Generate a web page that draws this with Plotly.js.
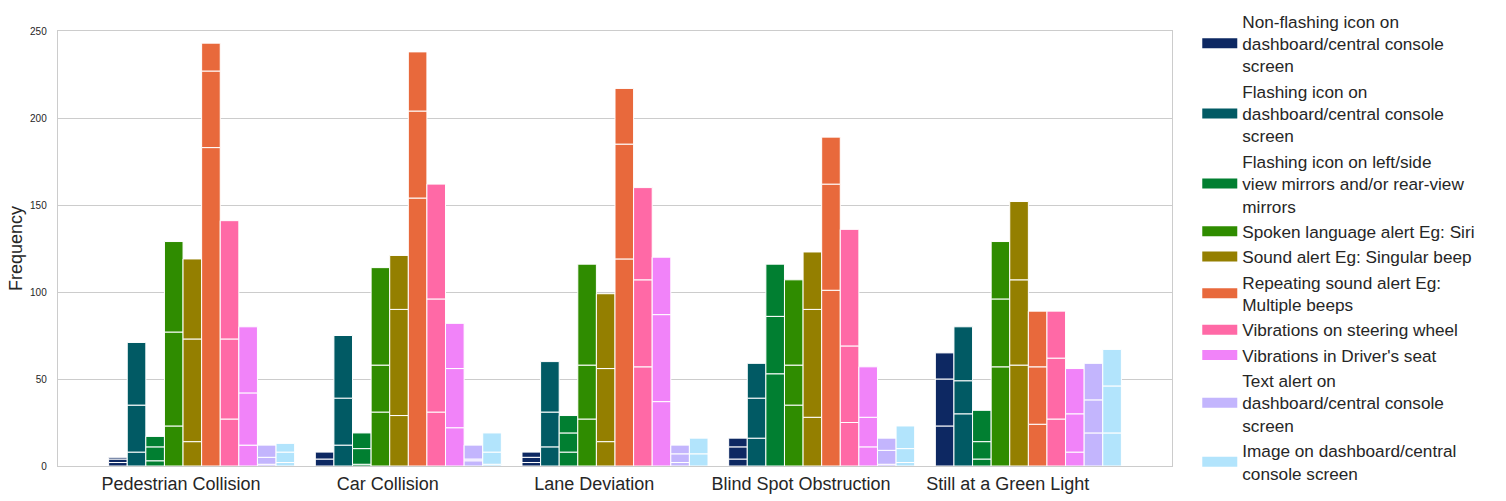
<!DOCTYPE html>
<html><head><meta charset="utf-8">
<script src="https://cdn.plot.ly/plotly-3.0.1.min.js"></script>
<style>html,body{margin:0;padding:0;background:#fff}#chart{width:1506px;height:501px}</style>
</head><body><div id="chart"></div><script>
const categories = ["Pedestrian Collision", "Car Collision", "Lane Deviation", "Blind Spot Obstruction", "Still at a Green Light"];
const options = [
  "Non-flashing icon on<br>dashboard/central console<br>screen",
  "Flashing icon on<br>dashboard/central console<br>screen",
  "Flashing icon on left/side<br>view mirrors and/or rear-view<br>mirrors",
  "Spoken language alert Eg: Siri",
  "Sound alert Eg: Singular beep",
  "Repeating sound alert Eg:<br>Multiple beeps",
  "Vibrations on steering wheel",
  "Vibrations in Driver's seat",
  "Text alert on<br>dashboard/central console<br>screen",
  "Image on dashboard/central<br>console screen"
];
const colors = ["#0d2862", "#015a64", "#017f31", "#2f8c00", "#947f00", "#e8693c", "#ff69a6", "#f183f9", "#c3b5fd", "#b2e4fc"];
// cumulative frequencies (three stacked levels) per option, per category
const level1 = [
  [2, 0, 2, 4, 23],
  [8, 12, 11, 16, 30],
  [3, 1, 8, 53, 4],
  [23, 31, 27, 35, 57],
  [14, 29, 14, 28, 58],
  [183, 154, 119, 101, 24],
  [27, 31, 57, 25, 27],
  [12, 22, 37, 11, 8],
  [1, 3, 2, 1, 19],
  [2, 1, 0, 2, 19]
];
const level2 = [
  [4, 4, 5, 11, 50],
  [35, 39, 31, 39, 49],
  [11, 10, 19, 86, 14],
  [77, 58, 58, 58, 96],
  [73, 90, 56, 90, 107],
  [227, 204, 185, 162, 57],
  [73, 96, 107, 69, 62],
  [42, 56, 87, 28, 30],
  [5, 4, 7, 9, 38],
  [8, 8, 7, 10, 46]
];
const level3 = [
  [5, 8, 8, 16, 65],
  [71, 75, 60, 59, 80],
  [17, 19, 29, 116, 32],
  [129, 114, 116, 107, 129],
  [119, 121, 99, 123, 152],
  [243, 238, 217, 189, 89],
  [141, 162, 160, 136, 89],
  [80, 82, 120, 57, 56],
  [12, 12, 12, 16, 59],
  [13, 19, 16, 23, 67]
];
const yTicks = [0, 50, 100, 150, 200, 250];

const FONT = "Liberation Sans, Arial, sans-serif";
const levels = [level1, level2, level3];
const xIdx = categories.map((c, i) => i);
const traces = [];
options.forEach((name, j) => {
  levels.forEach((lv, k) => {
    const base = xIdx.map(i => k === 0 ? 0 : levels[k - 1][j][i]);
    traces.push({
      type: "bar",
      x: xIdx,
      y: xIdx.map(i => lv[j][i] - base[i]),
      base: base,
      offsetgroup: String(j),
      marker: {color: colors[j], line: {color: "#ffffff", width: 1}},
      showlegend: false,
      hoverinfo: "skip"
    });
  });
});
options.forEach((name, j) => {
  traces.push({
    type: "scatter", mode: "lines", x: [null], y: [null],
    name: name, line: {color: colors[j], width: 11},
    showlegend: true, hoverinfo: "skip"
  });
});

const layout = {
  width: 1506, height: 501,
  margin: {l: 58, r: 334, t: 31, b: 35},
  paper_bgcolor: "#ffffff", plot_bgcolor: "#ffffff",
  font: {family: FONT, color: "#262626"},
  barmode: "group", bargap: 0.1, bargroupgap: 0,
  xaxis: {
    range: [-0.695, 4.695],
    tickvals: xIdx.map(i => i - 0.1),
    ticktext: categories,
    showgrid: false, zeroline: false,
    showline: true, mirror: true, linecolor: "#cccccc", linewidth: 1.25,
    ticks: "outside", ticklen: 1, tickcolor: "rgba(0,0,0,0)",
    tickfont: {size: 18, color: "#262626", family: FONT}
  },
  yaxis: {
    range: [0, 250],
    tickvals: yTicks,
    showgrid: true, gridcolor: "#cccccc", gridwidth: 1,
    zeroline: false,
    showline: true, mirror: true, linecolor: "#cccccc", linewidth: 1.25,
    ticks: "outside", ticklen: 8, tickcolor: "rgba(0,0,0,0)",
    tickfont: {size: 10, color: "#262626", family: FONT},
    title: {text: "Frequency", font: {size: 18, color: "#262626", family: FONT}, standoff: 2}
  },
  legend: {
    xref: "container", yref: "container",
    x: 0.795, xanchor: "left", y: 0.9934, yanchor: "top",
    maxheight: 1,
    bgcolor: "rgba(0,0,0,0)",
    font: {size: 17.2, color: "#262626", family: FONT},
    itemwidth: 35, valign: "middle"
  }
};
Plotly.newPlot("chart", traces, layout, {displayModeBar: false, staticPlot: true});
</script></body></html>
